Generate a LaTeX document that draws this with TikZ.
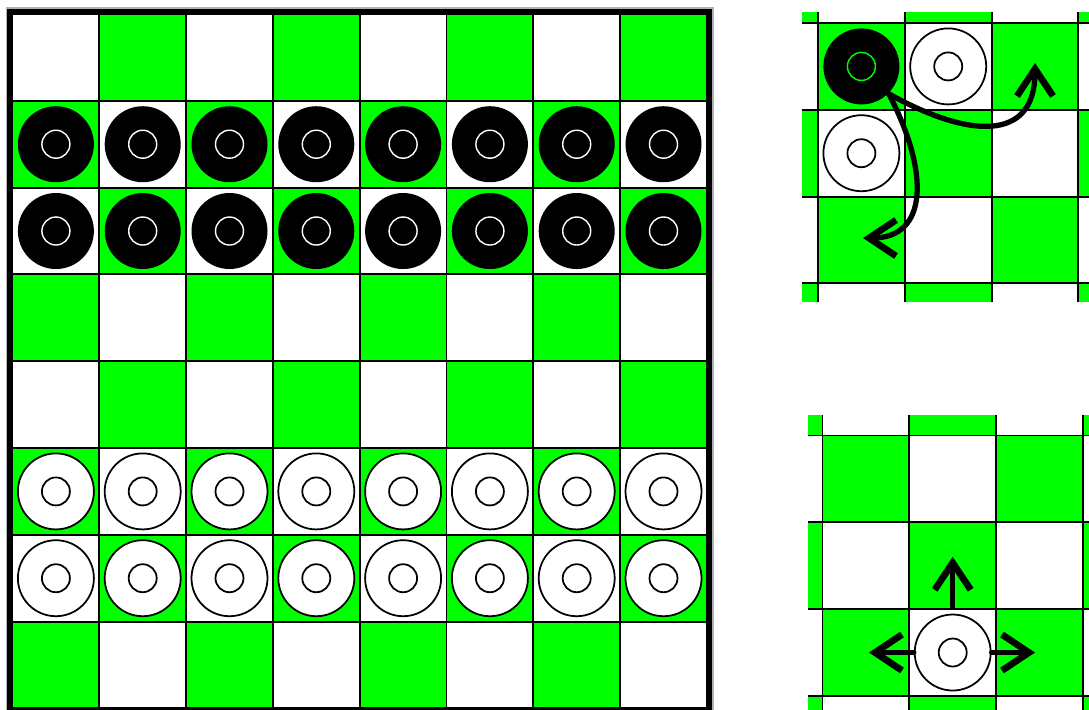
\documentclass[tikz,border=0pt]{standalone}
\usepackage{xcolor}
\usetikzlibrary{arrows.meta}

\definecolor{boardgreen}{RGB}{0,255,0}

\begin{document}
\begin{tikzpicture}[
  cell/.style={draw=black, line width=0.55pt, fill=white, minimum size=8.68mm, inner sep=0pt},
  gcell/.style={cell, fill=boardgreen},
  piece/.style={circle, inner sep=0pt, minimum size=7.6mm},
  bpiece/.style={piece, fill=black,
    path picture={\draw[white, line width=0.4pt] (path picture bounding box.center) circle (1.4mm);}},
  kpiece/.style={piece, fill=black,
    path picture={\draw[boardgreen, line width=0.4pt] (path picture bounding box.center) circle (1.4mm);}},
  wpiece/.style={piece, draw=black, line width=0.5pt, fill=white,
    path picture={\draw[black, line width=0.5pt] (path picture bounding box.center) circle (1.4mm);}},
  move/.style={-{Straight Barb[length=2.7mm, width=3.6mm, line width=1.9pt]}, line width=1.5pt, line cap=round}
]
  \def\s{0.868}
  \useasboundingbox (0,0) rectangle (10.89,-7.09);

  % Main board 8x8
  \begin{scope}[shift={(0.125,-0.14)}]
    \foreach \r in {0,...,7} {
      \foreach \c in {0,...,7} {
        \pgfmathtruncatemacro\odd{mod(\r+\c,2)}
        \ifnum\odd=1
          \node[gcell] (m\r\c) at (\c*\s+\s/2, -\r*\s-\s/2) {};
        \else
          \node[cell] (m\r\c) at (\c*\s+\s/2, -\r*\s-\s/2) {};
        \fi
      }
    }
    \draw[gray!60, line width=0.25mm] (-0.055,0.055) rectangle (8*\s+0.055,-8*\s-0.055);
    \draw[line width=0.48mm] (-0.03,0.03) rectangle (8*\s+0.03,-8*\s-0.03);

    % Black men
    \foreach \r in {1,2} {
      \foreach \c in {0,...,7} {
        \node[bpiece] (b\r\c) at (\c*\s+\s/2, -\r*\s-\s/2) {};
      }
    }
    % White men
    \foreach \r in {5,6} {
      \foreach \c in {0,...,7} {
        \node[wpiece] (w\r\c) at (\c*\s+\s/2, -\r*\s-\s/2) {};
      }
    }
  \end{scope}

  % Top panel: diagonal capture
  \begin{scope}[shift={(8.18,-0.23)}]
    \begin{scope}
      \clip (-0.16,0.103) rectangle (2.71,-2.78);
      \foreach \j in {-1,...,3} {
        \foreach \i in {-1,...,3} {
          \pgfmathtruncatemacro\odd{mod(\i+\j+2,2)}
          \ifnum\odd=0
            \node[gcell] (t\j\i) at (\i*\s+\s/2, -\j*\s-\s/2) {};
          \else
            \node[cell] (t\j\i) at (\i*\s+\s/2, -\j*\s-\s/2) {};
          \fi
        }
      }
    \end{scope}
    \node[kpiece] (tb) at (\s/2,-\s/2) {};
    \node[wpiece] (tw1) at (1.5*\s,-\s/2) {};
    \node[wpiece] (tw2) at (\s/2,-1.5*\s) {};
    \coordinate (tr) at (2.17,-0.40);
    \coordinate (tl) at (0.45,-2.15);
    \draw[move] (tb.south east) .. controls (1.5,-1.15) and (2.17,-1.2) .. (tr);
    \draw[move] (tb.south east) .. controls (1.12,-1.5) and (1.1,-2.15) .. (tl);
  \end{scope}

  % Bottom panel: straight moves
  \begin{scope}[shift={(8.225,-4.355)}]
    \begin{scope}
      \clip (-0.145,0.205) rectangle (2.665,-2.735);
      \foreach \j in {-1,...,3} {
        \foreach \i in {-1,...,3} {
          \pgfmathtruncatemacro\odd{mod(\i+\j+2,2)}
          \ifnum\odd=0
            \node[gcell] (u\j\i) at (\i*\s+\s/2, -\j*\s-\s/2) {};
          \else
            \node[cell] (u\j\i) at (\i*\s+\s/2, -\j*\s-\s/2) {};
          \fi
        }
      }
    \end{scope}
    \node[wpiece] (bw) at (1.5*\s,-2.5*\s) {};
    \coordinate (bu) at (1.5*\s,-1.212);
    \coordinate (bl) at (0.465,-2.5*\s);
    \coordinate (br) at (2.125,-2.5*\s);
    \draw[move] (bw.north) ++(0,0.07) -- (bu);
    \draw[move] (bw.west) -- (bl);
    \draw[move] (bw.east) -- (br);
  \end{scope}
\end{tikzpicture}
\end{document}
